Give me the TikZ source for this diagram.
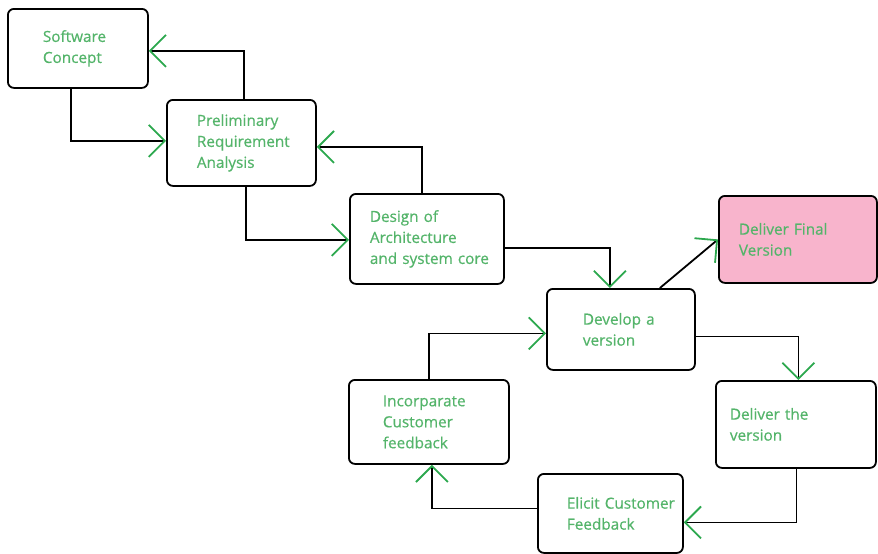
\documentclass[tikz,border=0pt]{standalone}
\usepackage{fontspec}
\setmainfont{Open Sans}[FakeBold=0.6]
\usetikzlibrary{arrows.meta}
\definecolor{txtgreen}{RGB}{84,180,106}
\definecolor{arrgreen}{RGB}{44,168,78}
\definecolor{pinkfill}{RGB}{248,180,204}
\tikzset{
  bx/.style n args={3}{draw=black, line width=1.8pt, rounded corners=6pt,
    anchor=north west, inner xsep=#3, inner ysep=0pt, text width=#1,
    minimum height=#2, align=left, text=txtgreen,
    font=\fontsize{15.3}{21}\selectfont},
  conn/.style={draw=black, line width=1.8pt,
    -{Straight Barb[length=16pt, width=32pt, line width=1.8pt, color=arrgreen]}},
}
\begin{document}
\begin{tikzpicture}[x=1pt,y=-1pt]
\useasboundingbox (0,0) rectangle (878,554);
\node[bx={70pt}{79pt}{35pt}] (SC) at (7,8) {\mbox{Software}\\\mbox{Concept}};
\node[bx={89pt}{86pt}{30pt}] (PR) at (166,99) {\mbox{Preliminary}\\\mbox{Requirement}\\\mbox{Analysis}};
\node[bx={114pt}{90pt}{20pt}] (DA) at (349,193) {\mbox{Design of}\\\mbox{Architecture}\\\mbox{and system core}};
\node[bx={118pt}{87pt}{20pt}, fill=pinkfill] (DF) at (718,195) {\mbox{Deliver Final}\\\mbox{Version}};
\node[bx={76pt}{81pt}{36pt}] (DV) at (546,288) {\mbox{Develop a}\\\mbox{version}};
\node[bx={132pt}{87pt}{14pt}] (DL) at (715,380) {\mbox{Deliver the}\\\mbox{version}};
\node[bx={92pt}{84pt}{34pt}] (IC) at (348,379) {\mbox{Incorparate}\\\mbox{Customer}\\\mbox{feedback}};
\node[bx={87pt}{79pt}{29pt}] (EL) at (537,473) {\mbox{Elicit Customer}\\\mbox{Feedback}};

\draw[conn] ([xshift=2.5pt]PR.north) |- ([yshift=-2.5pt]SC.east);
\draw[conn] ([xshift=-7pt]SC.south) |- ([yshift=2pt]PR.west);
\draw[conn] ([xshift=-5pt]DA.north) |- ([yshift=-4pt]PR.east);
\draw[conn] ([xshift=4.5pt]PR.south) |- ([yshift=-1pt]DA.west);
\draw[conn] ([yshift=-9pt]DA.east) -| ([xshift=-11pt]DV.north);
\draw[conn] ([xshift=39pt]DV.north) -- (DF.west);
\draw[conn] ([yshift=-7pt]DV.east) -| ([xshift=2.5pt]DL.north);
\draw[conn] ([xshift=0.5pt]DL.south) |- ([yshift=-9pt]EL.east);
\draw[conn] ([yshift=5pt]EL.west) -| ([xshift=3pt]IC.south);
\draw[conn] (IC.north) |- ([yshift=-4pt]DV.west);
\end{tikzpicture}
\end{document}
